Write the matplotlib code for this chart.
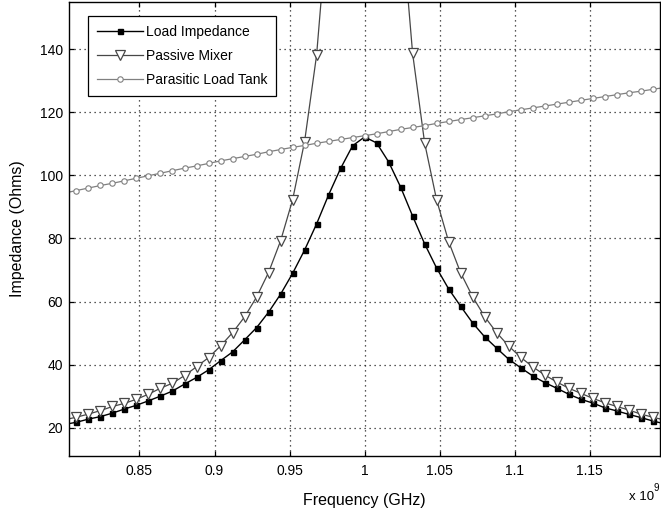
import matplotlib
matplotlib.use('Agg')
import matplotlib.pyplot as plt

plt.rcParams['font.family'] = ['Liberation Sans', 'DejaVu Sans']

# frequency grid (GHz), one marker per point
freq_ghz = [0.800, 0.808, 0.816, 0.824, 0.832, 0.840, 0.848, 0.856, 0.864, 0.872,
            0.880, 0.888, 0.896, 0.904, 0.912, 0.920, 0.928, 0.936, 0.944, 0.952,
            0.960, 0.968, 0.976, 0.984, 0.992, 1.000, 1.008, 1.016, 1.024, 1.032,
            1.040, 1.048, 1.056, 1.064, 1.072, 1.080, 1.088, 1.096, 1.104, 1.112,
            1.120, 1.128, 1.136, 1.144, 1.152, 1.160, 1.168, 1.176, 1.184, 1.192,
            1.200]

load_impedance = [21.0, 21.7, 22.7, 23.5, 24.6, 25.9, 27.1, 28.5, 30.0, 31.6,
                  33.8, 35.9, 38.3, 41.2, 44.0, 47.8, 51.7, 56.6, 62.3, 68.9,
                  76.3, 84.6, 93.8, 102.2, 109.4, 112.2, 110.3, 104.3, 96.3, 87.1,
                  78.3, 70.6, 64.0, 58.5, 53.2, 48.8, 45.2, 41.7, 39.0, 36.4,
                  34.3, 32.5, 30.6, 29.0, 27.8, 26.3, 25.3, 24.2, 23.2, 22.1,
                  21.2]

# goes far off the top of the plot around 1 GHz
passive_mixer = [22.5, 23.3, 24.3, 25.4, 26.7, 27.7, 29.0, 30.6, 32.5, 34.1,
                 36.5, 39.3, 42.2, 45.9, 50.1, 55.1, 61.4, 69.2, 79.2, 92.2,
                 110.7, 138.1, 184.0, 276.0, 552.0, 1000.0, 552.0, 276.0, 184.0, 138.7,
                 110.3, 92.2, 79.0, 69.1, 61.5, 55.2, 50.1, 45.9, 42.3, 39.3,
                 36.7, 34.5, 32.5, 30.9, 29.3, 27.9, 26.7, 25.6, 24.3, 23.3,
                 22.4]

parasitic_tank = [94.4, 95.2, 96.0, 96.8, 97.5, 98.3, 99.1, 99.9, 100.7, 101.5,
                  102.3, 103.0, 103.8, 104.6, 105.3, 106.0, 106.7, 107.5, 108.2, 108.9,
                  109.5, 110.2, 110.8, 111.4, 112.0, 112.6, 113.2, 113.9, 114.6, 115.2,
                  115.8, 116.5, 117.1, 117.7, 118.3, 118.9, 119.5, 120.2, 120.8, 121.4,
                  122.0, 122.6, 123.2, 123.8, 124.4, 125.0, 125.6, 126.2, 126.7, 127.3,
                  127.9]

xticks = [0.85, 0.90, 0.95, 1.00, 1.05, 1.10, 1.15]
xtick_labels = ['0.85', '0.9', '0.95', '1', '1.05', '1.1', '1.15']
yticks = [20, 40, 60, 80, 100, 120, 140]

fig = plt.figure(figsize=(6.61, 5.16), dpi=100)
ax = fig.add_axes([0.1051, 0.1163, 0.8933, 0.8798])

ax.plot(freq_ghz, load_impedance, color='black', lw=1.0, marker='s',
        ms=3.6, mfc='black', mec='black', label='Load Impedance')
ax.plot(freq_ghz, passive_mixer, color='#474747', lw=0.9, marker='v',
        ms=7.3, mfc='white', mec='#474747', mew=0.9, label='Passive Mixer')
ax.plot(freq_ghz, parasitic_tank, color='#808080', lw=0.9, marker='o',
        ms=3.9, mfc='white', mec='#808080', mew=0.8, label='Parasitic Load Tank')

ax.set_xlim(0.80335, 1.1968)
ax.set_ylim(11.0, 155.0)
ax.set_xticks(xticks)
ax.set_xticklabels(xtick_labels)
ax.set_yticks(yticks)

ax.grid(True, color='#222222', linestyle=(0, (1, 3)), linewidth=0.9)
ax.tick_params(direction='in', length=3.6, width=0.9, top=True, right=True,
               labelsize=10, colors='black')
ax.tick_params(axis='x', pad=6)
ax.tick_params(axis='y', pad=4.5)
for sp in ax.spines.values():
    sp.set_linewidth(1.0)
    sp.set_color('black')

ax.set_xlabel('Frequency (GHz)', fontsize=11.5)
ax.xaxis.set_label_coords(0.5, -0.081)
ax.set_ylabel('Impedance (Ohms)', fontsize=11.5)
ax.yaxis.set_label_coords(-0.0753, 0.5)

leg = ax.legend(loc='upper left', bbox_to_anchor=(0.0313, 0.969), borderaxespad=0,
                fontsize=10, handlelength=3.3, handletextpad=0.2, borderpad=0.65,
                labelspacing=0.7, fancybox=False, framealpha=1, edgecolor='black')
leg.get_frame().set_linewidth(0.9)

# MATLAB style exponent note
fig.text(629 / 661, 1 - 500 / 516, 'x 10', fontsize=9.5, ha='left', va='baseline')
fig.text(653 / 661, 1 - 491 / 516, '9', fontsize=7, ha='left', va='baseline')

fig.savefig('out.png', dpi=100)
